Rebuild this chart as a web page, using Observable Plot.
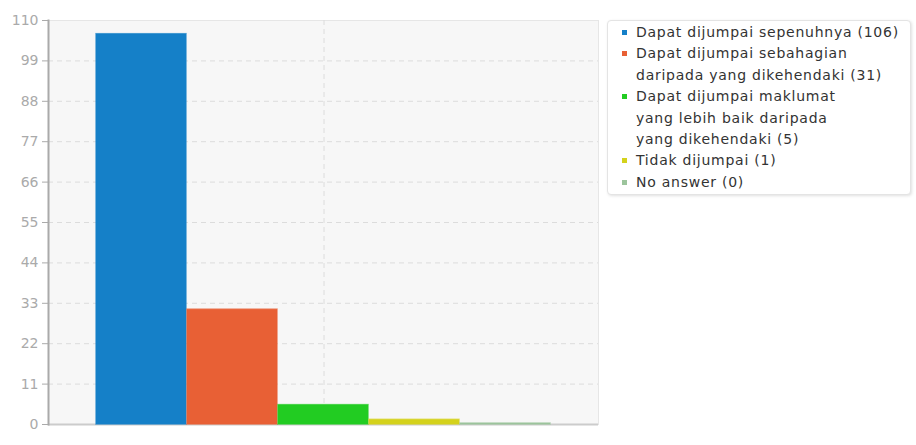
<!DOCTYPE html>
<html>
<head>
<meta charset="utf-8">
<script src="https://cdn.jsdelivr.net/npm/d3@7"></script>
<script src="https://cdn.jsdelivr.net/npm/@observablehq/plot@0.6"></script>
<style>
  html, body { margin: 0; padding: 0; background: #fff; }
  #wrap { position: relative; width: 916px; height: 445px; font-family: "DejaVu Sans", sans-serif; }
  #chart { position: absolute; left: 0; top: 0; }
  #legend {
    position: absolute; left: 607px; top: 20px; width: 304px; height: 175px;
    box-sizing: border-box; background: #fff; border: 1px solid #e4e4e4; border-radius: 4px;
    box-shadow: 1px 1px 3px rgba(0,0,0,0.12); padding: 1px 0 0 13px;
    font-size: 14px; letter-spacing: 0.75px; color: #333; line-height: 21.4px;
  }
  .item { position: relative; padding-left: 15px; }
  .sw { position: absolute; left: 1px; top: 8px; width: 5px; height: 5px; }
</style>
</head>
<body>
<div id="wrap"><div id="chart"></div><div id="legend"></div></div>
<script>
const categories = ["Dapat dijumpai sepenuhnya", "Dapat dijumpai sebahagian daripada yang dikehendaki", "Dapat dijumpai maklumat yang lebih baik daripada yang dikehendaki", "Tidak dijumpai", "No answer"];
const legendLines = [
  ["Dapat dijumpai sepenuhnya (106)"],
  ["Dapat dijumpai sebahagian", "daripada yang dikehendaki (31)"],
  ["Dapat dijumpai maklumat", "yang lebih baik daripada", "yang dikehendaki (5)"],
  ["Tidak dijumpai (1)"],
  ["No answer (0)"]
];
const values = [106, 31, 5, 1, 0];
const colors = ["#1580c8", "#e86035", "#22cc22", "#d4d21c", "#9cc49c"];
const yTicks = [0, 11, 22, 33, 44, 55, 66, 77, 88, 99, 110];

const data = categories.map((c, i) => ({cat: c, value: values[i]}));

const chart = Plot.plot({
  width: 600, height: 445,
  marginLeft: 48, marginRight: 2, marginTop: 20, marginBottom: 21,
  style: {fontFamily: "DejaVu Sans, sans-serif", fontSize: "14px", background: "transparent"},
  x: {domain: categories, paddingInner: 0, paddingOuter: 0.5, axis: null},
  y: {domain: [0, 110], ticks: yTicks},
  color: {domain: categories, range: colors},
  marks: [
    Plot.frame({fill: "#f7f7f7", stroke: "#e6e6e6"}),
    Plot.ruleY(yTicks.filter(t => t > 0 && t < 110), {stroke: "#dcdcdc", strokeDasharray: "5,4", strokeWidth: 1}),
    Plot.ruleX([categories[2]], {stroke: "#dcdcdc", strokeDasharray: "5,4", strokeWidth: 1}),
    Plot.ruleY([0], {stroke: "#cccccc", strokeWidth: 2}),
    Plot.barY(data, {x: "cat", y: "value", fill: "cat", stroke: "cat", strokeWidth: 1.5, strokeOpacity: 0.7, insetRight: 1, insetTop: -1}),
    Plot.frame({anchor: "left", stroke: "#aaaaaa", strokeWidth: 2}),
    Plot.axisY({ticks: yTicks, tickSize: 6, tickPadding: 4, color: "#aaaaaa", stroke: "#aaaaaa", label: null})
  ]
});
document.getElementById("chart").appendChild(chart);

const legend = document.getElementById("legend");
legendLines.forEach((lines, i) => {
  const it = document.createElement("div");
  it.className = "item";
  const sw = document.createElement("span");
  sw.className = "sw";
  sw.style.background = colors[i];
  it.appendChild(sw);
  lines.forEach((l, j) => {
    const d = document.createElement("div");
    d.textContent = l;
    it.appendChild(d);
  });
  legend.appendChild(it);
});
</script>
</body>
</html>
